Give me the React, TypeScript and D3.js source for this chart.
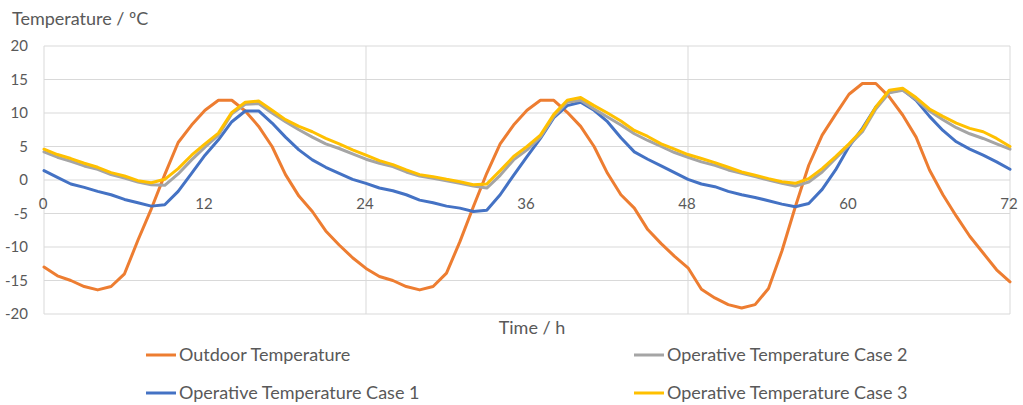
import React, { useEffect, useRef } from 'react';
import * as d3 from 'd3';

// hourly values (h = 0 .. 72)
const outdoor = [
  -13.0, -14.3, -15.0, -15.9, -16.4, -15.9, -14.0, -9.0, -4.3, 0.8, 5.6, 8.2, 10.4, 11.9, 11.9,
  10.3, 8.0, 5.0, 0.8, -2.4, -4.7, -7.6, -9.7, -11.6, -13.2, -14.4, -15.0, -15.9, -16.4, -15.9,
  -13.9, -9.2, -4.0, 1.0, 5.4, 8.2, 10.4, 11.9, 11.9, 10.1, 8.0, 5.0, 1.0, -2.2, -4.2, -7.4,
  -9.5, -11.4, -13.1, -16.3, -17.6, -18.6, -19.1, -18.6, -16.2, -10.6, -4.0, 2.2, 6.7, 9.8,
  12.8, 14.4, 14.4, 12.4, 9.7, 6.4, 1.5, -2.2, -5.4, -8.4, -10.9, -13.4, -15.2,
];
const case1 = [
  1.4, 0.4, -0.6, -1.1, -1.7, -2.2, -2.9, -3.4, -3.9, -3.7, -1.7, 1.0, 3.7, 6.0, 8.7, 10.3,
  10.3, 8.5, 6.4, 4.5, 3.0, 1.9, 1.0, 0.1, -0.5, -1.2, -1.6, -2.2, -3.0, -3.4, -3.9, -4.2,
  -4.7, -4.5, -2.2, 0.7, 3.5, 6.2, 9.3, 11.1, 11.6, 10.4, 8.7, 6.3, 4.2, 3.1, 2.1, 1.1, 0.1,
  -0.6, -1.0, -1.7, -2.2, -2.6, -3.1, -3.6, -4.0, -3.5, -1.4, 1.5, 5.0, 7.7, 10.9, 13.1, 13.5,
  11.9, 9.5, 7.4, 5.7, 4.6, 3.7, 2.7, 1.6,
];
const case2 = [
  4.2, 3.4, 2.8, 2.1, 1.6, 0.8, 0.3, -0.3, -0.7, -0.8, 0.9, 3.0, 4.9, 6.7, 9.9, 11.3, 11.4,
  10.0, 8.7, 7.5, 6.4, 5.4, 4.7, 3.9, 3.1, 2.5, 2.0, 1.2, 0.6, 0.25, -0.1, -0.5, -0.9, -1.2,
  0.7, 3.0, 4.5, 6.4, 9.5, 11.6, 11.9, 10.6, 9.4, 8.2, 6.9, 5.9, 5.0, 4.1, 3.4, 2.7, 2.2, 1.5,
  1.0, 0.5, 0.0, -0.5, -0.9, -0.3, 1.2, 3.2, 5.2, 7.2, 10.6, 13.0, 13.4, 12.0, 10.3, 9.0, 7.8,
  6.9, 6.2, 5.4, 4.6,
];
const case3 = [
  4.6, 3.8, 3.2, 2.5, 1.9, 1.1, 0.6, -0.1, -0.4, 0.1, 1.7, 3.7, 5.4, 7.0, 10.1, 11.6, 11.8,
  10.4, 9.0, 8.0, 7.2, 6.2, 5.4, 4.5, 3.7, 2.9, 2.3, 1.5, 0.8, 0.5, 0.1, -0.25, -0.7, -0.6,
  1.4, 3.5, 5.0, 6.7, 9.8, 11.9, 12.3, 11.1, 10.0, 8.8, 7.4, 6.5, 5.4, 4.6, 3.8, 3.2, 2.6, 1.9,
  1.2, 0.7, 0.2, -0.25, -0.5, 0.2, 1.7, 3.5, 5.4, 7.5, 10.9, 13.4, 13.7, 12.3, 10.6, 9.5, 8.5,
  7.7, 7.2, 6.2, 5.0,
];

const xLabels = [0, 12, 24, 36, 48, 60, 72];
const xGrid = [0, 24, 48, 72];
const yTicks = [-20, -15, -10, -5, 0, 5, 10, 15, 20];

const series = [
  { name: 'Outdoor Temperature', values: outdoor, color: '#ED7D31' },
  { name: 'Operative Temperature Case 1', values: case1, color: '#4472C4' },
  { name: 'Operative Temperature Case 2', values: case2, color: '#A5A5A5' },
  { name: 'Operative Temperature Case 3', values: case3, color: '#FFC000' },
];
// legend order as in the picture (two columns)
const legendOrder = [0, 2, 1, 3];

const W = 1023;
const H = 405;
const FONT = 'Lato, "Open Sans", sans-serif';
const TXT = '#595959';

export default function App() {
  const ref = useRef<SVGSVGElement>(null);

  useEffect(() => {
    document.body.style.margin = '0';
    const svg = d3.select(ref.current);
    svg.selectAll('*').remove();

    const x = d3.scaleLinear().domain([0, 72]).range([44, 1010]);
    const y = d3.scaleLinear().domain([-20, 20]).range([314, 46]);

    const grid = svg.append('g');
    grid.selectAll('line.h')
      .data(yTicks)
      .enter()
      .append('line')
      .attr('x1', x(0))
      .attr('x2', x(72))
      .attr('y1', (d) => y(d))
      .attr('y2', (d) => y(d))
      .attr('stroke', '#D9D9D9')
      .attr('stroke-width', 1);
    grid.selectAll('line.v')
      .data(xGrid)
      .enter()
      .append('line')
      .attr('x1', (d) => x(d))
      .attr('x2', (d) => x(d))
      .attr('y1', y(20))
      .attr('y2', y(-20))
      .attr('stroke', '#D9D9D9')
      .attr('stroke-width', 1);

    svg.append('g')
      .selectAll('text')
      .data(yTicks)
      .enter()
      .append('text')
      .attr('x', 28)
      .attr('y', (d) => y(d))
      .attr('dy', '0.35em')
      .attr('text-anchor', 'end')
      .attr('font-family', FONT)
      .attr('font-size', 15)
      .attr('fill', TXT)
      .text((d) => d);

    svg.append('g')
      .selectAll('text')
      .data(xLabels)
      .enter()
      .append('text')
      .attr('x', (d) => x(d) - 1)
      .attr('y', y(0) + 24)
      .attr('dy', '0.35em')
      .attr('text-anchor', 'middle')
      .attr('font-family', FONT)
      .attr('font-size', 15)
      .attr('fill', TXT)
      .text((d) => d);

    const line = d3.line<number>()
      .x((_, i) => x(i))
      .y((d) => y(d));

    svg.append('g')
      .selectAll('path')
      .data(series)
      .enter()
      .append('path')
      .attr('d', (d) => line(d.values))
      .attr('fill', 'none')
      .attr('stroke', (d) => d.color)
      .attr('stroke-width', 3)
      .attr('stroke-linejoin', 'round')
      .attr('stroke-linecap', 'round');

    svg.append('text')
      .attr('x', 12)
      .attr('y', 25)
      .attr('font-family', FONT)
      .attr('font-size', 18)
      .attr('fill', TXT)
      .text('Temperature / ºC');

    svg.append('text')
      .attr('x', 532)
      .attr('y', 328)
      .attr('dy', '0.35em')
      .attr('text-anchor', 'middle')
      .attr('font-family', FONT)
      .attr('font-size', 18)
      .attr('fill', TXT)
      .text('Time / h');

    const legend = svg.append('g');
    legendOrder.forEach((si, k) => {
      const s = series[si];
      const lx = k % 2 === 0 ? 146 : 634;
      const ly = k < 2 ? 355 : 393;
      const g = legend.append('g').attr('transform', `translate(${lx},${ly})`);
      g.append('line')
        .attr('x1', 0)
        .attr('x2', 30)
        .attr('y1', 0)
        .attr('y2', 0)
        .attr('stroke', s.color)
        .attr('stroke-width', 3);
      g.append('text')
        .attr('x', 33)
        .attr('y', 0)
        .attr('dy', '0.35em')
        .attr('font-family', FONT)
        .attr('font-size', 18)
        .attr('fill', TXT)
        .text(s.name);
    });
  }, []);

  return (
    <div>
      <svg ref={ref} width={W} height={H} style={{ display: 'block', background: '#fff' }} />
    </div>
  );
}
